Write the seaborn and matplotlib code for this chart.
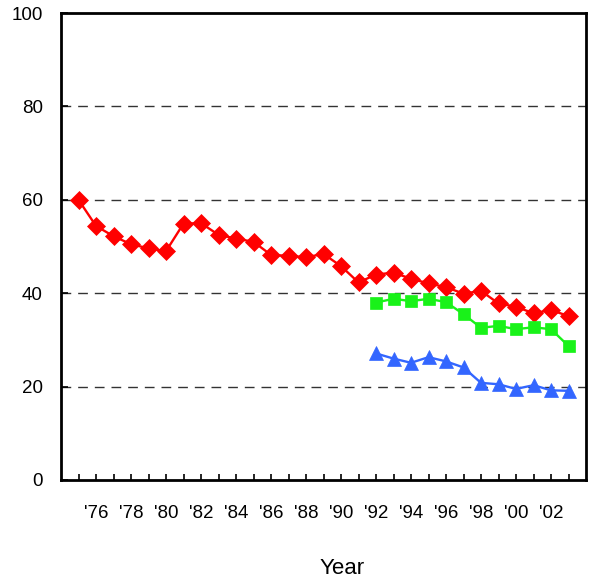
import numpy as np
import matplotlib
matplotlib.use("Agg")
import matplotlib.pyplot as plt
import pandas as pd
import seaborn as sns

# values
years_red = list(range(1975, 2004))
red_vals = [60.0, 54.4, 52.2, 50.5, 49.6, 49.0, 54.9, 55.0, 52.5, 51.7, 51.0,
            48.2, 48.0, 47.7, 48.4, 45.8, 42.3, 44.0, 44.4, 43.1, 42.1, 41.3,
            39.9, 40.5, 37.8, 37.1, 35.7, 36.4, 35.1]

years_late = list(range(1992, 2004))
green_vals = [38.0, 38.8, 38.3, 38.8, 38.1, 35.5, 32.6, 33.0, 32.3, 32.7, 32.3, 28.7]
blue_vals = [27.1, 26.0, 25.1, 26.3, 25.4, 24.1, 20.8, 20.5, 19.5, 20.3, 19.2, 19.1]

tick_years = list(range(1975, 2004))
label_years = list(range(1976, 2003, 2))

sns.set_style("white")
plt.rcParams['font.family'] = ['Liberation Sans', 'DejaVu Sans']
plt.rcParams['text.color'] = 'black'
plt.rcParams['axes.labelcolor'] = 'black'
plt.rcParams['xtick.color'] = 'black'
plt.rcParams['ytick.color'] = 'black'

df = pd.concat([
    pd.DataFrame({"year": years_red, "value": red_vals, "series": "red"}),
    pd.DataFrame({"year": years_late, "value": green_vals, "series": "green"}),
    pd.DataFrame({"year": years_late, "value": blue_vals, "series": "blue"}),
])

styles = {
    "red": dict(color="#ff0000", marker="D", markersize=9),
    "green": dict(color="#19f219", marker="s", markersize=8),
    "blue": dict(color="#3366ff", marker="^", markersize=10),
}

fig = plt.figure(figsize=(5.91, 5.82), dpi=100)
ax = fig.add_axes([61/591, 102/582, 525/591, 467/582])

for name, st in styles.items():
    sub = df[df["series"] == name]
    sns.lineplot(data=sub, x="year", y="value", ax=ax, color=st["color"],
                 marker=st["marker"], markersize=st["markersize"],
                 markeredgecolor=st["color"], markeredgewidth=0.5,
                 linewidth=1.7, legend=False)

ax.set_xlim(1974, 2004)
ax.set_ylim(0, 100)
ax.set_yticks([0, 20, 40, 60, 80, 100])
ax.set_xticks(tick_years)
ax.set_xticklabels([f"'{y % 100:02d}" if y in label_years else "" for y in tick_years])

for y in [20, 40, 60, 80]:
    ax.axhline(y, color="#333333", linewidth=1.0, linestyle=(0, (7, 5)), zorder=0)

for side in ["left", "right", "top", "bottom"]:
    ax.spines[side].set_visible(True)
    ax.spines[side].set_color("black")
    ax.spines[side].set_linewidth(2.0)

ax.tick_params(axis="x", direction="in", length=4, width=1.2, color="black",
               labelsize=13.5, pad=18, bottom=True)
ax.tick_params(axis="y", direction="in", length=5, width=1.2, color="black",
               labelsize=13.5, pad=13, left=True)

ax.set_ylabel("")
ax.set_xlabel("Year", fontsize=16)
ax.xaxis.set_label_coords((342 - 61) / 525, -0.168)

fig.savefig("out.png", dpi=100)
plt.close()
